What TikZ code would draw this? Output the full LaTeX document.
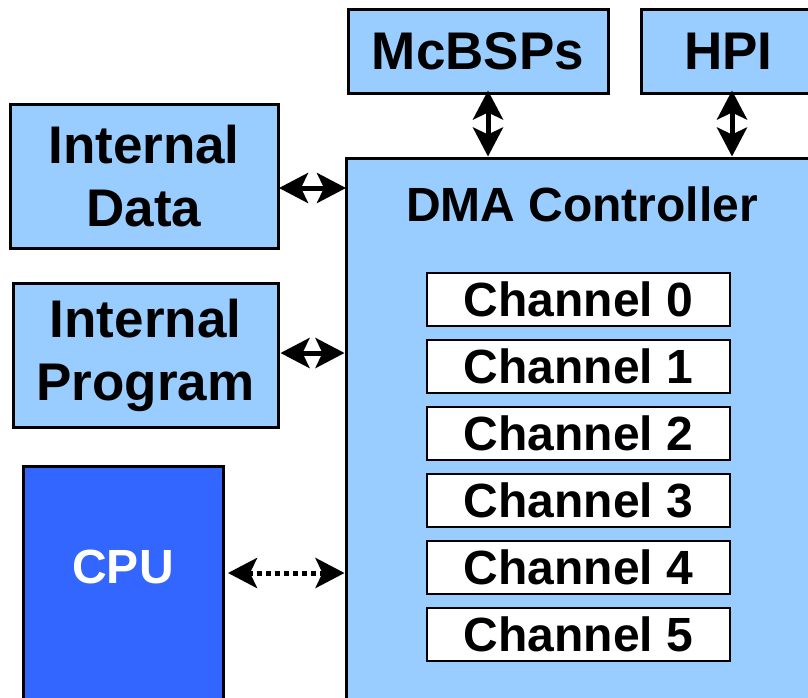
\documentclass[tikz,border=0pt]{standalone}
\usepackage{fontspec}
\setmainfont{Liberation Sans}
\usetikzlibrary{arrows.meta}
\definecolor{lblue}{HTML}{99CCFF}
\definecolor{cpublue}{HTML}{3366FF}
\begin{document}
\begin{tikzpicture}[x=1pt,y=-1pt,
  box/.style={draw=black,line width=3pt,fill=lblue,inner sep=0pt,align=center,
    font=\fontsize{53}{58}\selectfont\bfseries},
  chan/.style={draw=black,line width=2pt,fill=white,inner sep=0pt,
    minimum width=303pt,minimum height=53pt,font=\fontsize{48}{52}\selectfont\bfseries},
  biarrow/.style={line width=5pt,{Stealth[length=29pt,width=30pt,inset=7pt]}-{Stealth[length=29pt,width=30pt,inset=7pt]}},
  lbl/.style={inner sep=0pt,font=\fontsize{48}{52}\selectfont\bfseries}
]
\useasboundingbox (0,0) rectangle (808,697);
\clip (0,0) rectangle (808,697);
\fill[white] (0,0) rectangle (808,697);
% boxes
\node[box,minimum width=268pt,minimum height=144pt] (idata) at (144,176) {Internal\\[5pt]Data};
\node[box,minimum width=265pt,minimum height=144pt] (iprog) at (145.5,355) {Internal\\[5pt]Program};
\node[box,minimum width=260pt,minimum height=84pt] (mcbsp) at (478,51) {McBSPs};
\node[box,minimum width=175pt,minimum height=84pt] (hpi) at (728.5,51) {HPI};
\node[draw=black,line width=3pt,fill=cpublue,minimum width=200pt,minimum height=264pt,inner sep=0pt] (cpu) at (123,598) {};
\node[lbl,text=white] (cpulbl) at (123,567) {CPU};
\node[draw=black,line width=3pt,fill=lblue,minimum width=484pt,minimum height=572pt,inner sep=0pt] (dma) at (588,444) {};
\node[lbl] (dmalbl) at (582,204) {DMA Controller};
% channels
\node[chan] (ch0) at (578.5,299.5) {Channel 0};
\node[chan] (ch1) at (578.5,366.5) {Channel 1};
\node[chan] (ch2) at (578.5,433.5) {Channel 2};
\node[chan] (ch3) at (578.5,500.5) {Channel 3};
\node[chan] (ch4) at (578.5,567.5) {Channel 4};
\node[chan] (ch5) at (578.5,634.5) {Channel 5};
% arrows
\coordinate (a1) at (279,188);
\coordinate (a2) at (346,188);
\draw[biarrow] (a1) -- (a2);
\draw[biarrow] ([xshift=1pt]iprog.east |- 0,353) -- (dma.west |- 0,353);
\coordinate (c1) at (228,573);
\draw[biarrow,dash pattern=on 5pt off 4pt] (c1) -- (dma.west |- c1);
\draw[biarrow] ([yshift=4pt]mcbsp.south -| 488,0) -- (dma.north -| 488,0);
\draw[biarrow] ([yshift=4pt]hpi.south -| 732,0) -- (dma.north -| 732,0);
\end{tikzpicture}
\end{document}
